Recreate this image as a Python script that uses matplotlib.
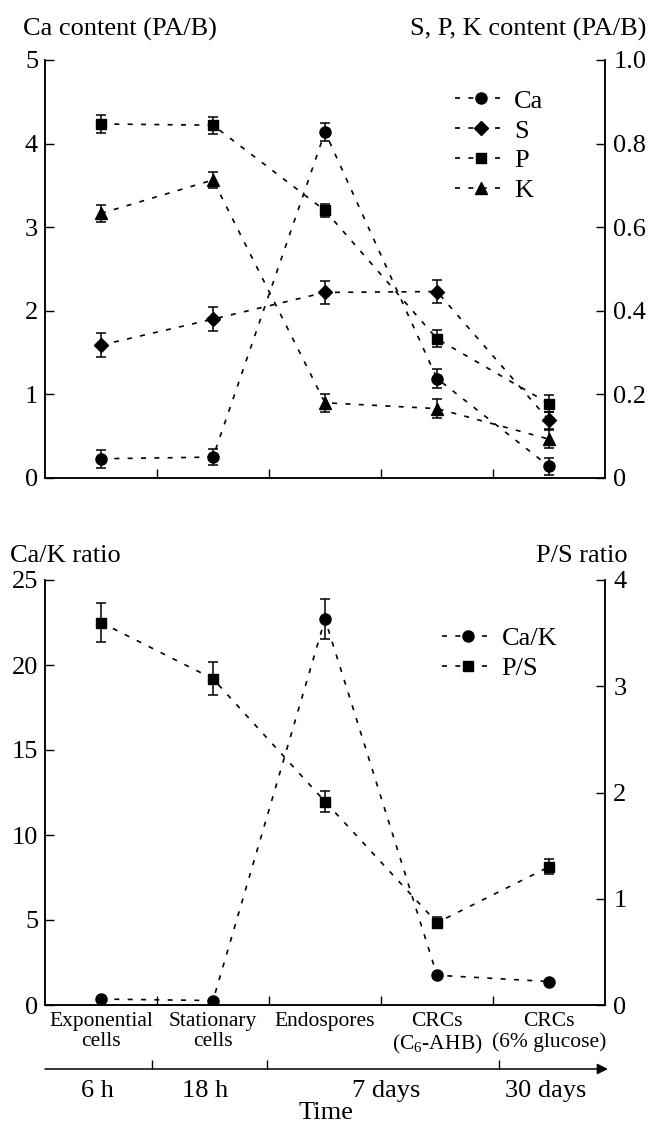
import numpy as np
import matplotlib.pyplot as plt
from matplotlib.ticker import FixedLocator, FixedFormatter

plt.rcParams['font.family'] = ['Liberation Serif', 'DejaVu Serif']
plt.rcParams['mathtext.fontset'] = 'custom'
plt.rcParams['mathtext.rm'] = 'Liberation Serif'

# ---- data -------------------------------------------------------------
categories = ['Exponential\ncells', 'Stationary\ncells', 'Endospores',
              'CRCs\n(C$_6$-AHB)', 'CRCs\n(6% glucose)']
x = np.arange(len(categories)) + 0.5

# top panel: Ca on the left axis, S, P, K on the right axis
ca = [0.23, 0.25, 4.14, 1.19, 0.14]
ca_err = [0.11, 0.10, 0.11, 0.11, 0.10]
s = [0.318, 0.380, 0.444, 0.446, 0.138]
s_err = [0.028, 0.028, 0.028, 0.028, 0.020]
p = [0.847, 0.844, 0.640, 0.333, 0.178]
p_err = [0.022, 0.020, 0.016, 0.020, 0.020]
k = [0.633, 0.713, 0.180, 0.166, 0.093]
k_err = [0.020, 0.020, 0.022, 0.022, 0.022]

# bottom panel: Ca/K on the left axis, P/S on the right axis
ca_k = [0.35, 0.26, 22.7, 1.75, 1.38]
ca_k_err = [0.0, 0.0, 1.16, 0.0, 0.0]
p_s = [3.60, 3.07, 1.915, 0.775, 1.30]
p_s_err = [0.18, 0.154, 0.10, 0.05, 0.07]

top_left_ticks = [0, 1, 2, 3, 4, 5]
top_right_ticks = [0, 0.2, 0.4, 0.6, 0.8, 1.0]
top_right_labels = ['0', '0.2', '0.4', '0.6', '0.8', '1.0']
bot_left_ticks = [0, 5, 10, 15, 20, 25]
bot_right_ticks = [0, 1, 2, 3, 4]

time_breaks = [0.96, 1.98, 4.06]
time_labels = ['6 h', '18 h', '7 days', '30 days']
time_label_pos = [0.47, 1.43, 3.05, 4.47]

# ---- style ------------------------------------------------------------
fs = 19
W, H = 658, 1125
dash = (0, (3, 5))
line_kw = dict(color='k', lw=1.2, ls=dash, markersize=8, zorder=3)
err_kw = dict(fmt='none', ecolor='k', elinewidth=1.1, capsize=3.6,
              capthick=1.1, zorder=2)


def fx(px):
    return px / W


def fy(py):
    return 1 - py / H


def style_axes(ax, side):
    ax.spines['top'].set_visible(False)
    ax.tick_params(axis='y', direction='in', length=6.5, width=1,
                   labelsize=fs, pad=5 if side == 'left' else 6)
    ax.tick_params(axis='x', direction='in', length=6.5, width=1)
    for sp in ax.spines.values():
        sp.set_linewidth(1.1)


fig = plt.figure(figsize=(W / 100, H / 100), dpi=100)

x0, x1 = fx(45), fx(605)

# ---- top panel --------------------------------------------------------
ax = fig.add_axes([x0, fy(478), x1 - x0, fy(60) - fy(478)])
ax2 = ax.twinx()
for a in (ax, ax2):
    a.set_xlim(0, 5)
ax.set_ylim(0, 5)
ax2.set_ylim(0, 1.0)

ax.errorbar(x, ca, yerr=ca_err, **err_kw)
h_ca, = ax.plot(x, ca, marker='o', label='Ca', **line_kw)
ax2.errorbar(x, s, yerr=s_err, **err_kw)
h_s, = ax2.plot(x, s, marker='D', label='S', **dict(line_kw, markersize=7.5))
ax2.errorbar(x, p, yerr=p_err, **err_kw)
h_p, = ax2.plot(x, p, marker='s', label='P', **dict(line_kw, markersize=7.5))
ax2.errorbar(x, k, yerr=k_err, **err_kw)
h_k, = ax2.plot(x, k, marker='^', label='K', **dict(line_kw, markersize=8.5))

style_axes(ax, 'left')
style_axes(ax2, 'right')
ax.set_yticks(top_left_ticks)
ax2.yaxis.set_major_locator(FixedLocator(top_right_ticks))
ax2.yaxis.set_major_formatter(FixedFormatter(top_right_labels))
ax.set_xticks([1, 2, 3, 4])
ax.set_xticklabels([])
ax2.set_xticks([1, 2, 3, 4])
ax2.set_xticklabels([])

ax2.legend(handles=[h_ca, h_s, h_p, h_k], loc='upper left',
           bbox_to_anchor=(0.732, 0.93), frameon=False, fontsize=fs,
           handlelength=2.0, handletextpad=0.25, labelspacing=0.24,
           borderpad=0, borderaxespad=0, numpoints=1)

fig.text(fx(23), fy(29), 'Ca content (PA/B)', fontsize=fs,
         ha='left', va='center')
fig.text(fx(646), fy(29), 'S, P, K content (PA/B)', fontsize=fs,
         ha='right', va='center')

# ---- bottom panel -----------------------------------------------------
bx = fig.add_axes([x0, fy(1005), x1 - x0, fy(580) - fy(1005)])
bx2 = bx.twinx()
for a in (bx, bx2):
    a.set_xlim(0, 5)
bx.set_ylim(0, 25)
bx2.set_ylim(0, 4)

bx.errorbar(x, ca_k, yerr=ca_k_err, **err_kw)
h_ck, = bx.plot(x, ca_k, marker='o', label='Ca/K', **line_kw)
bx2.errorbar(x, p_s, yerr=p_s_err, **err_kw)
h_ps, = bx2.plot(x, p_s, marker='s', label='P/S',
                 **dict(line_kw, markersize=7.5))

style_axes(bx, 'left')
style_axes(bx2, 'right')
bx.set_yticks(bot_left_ticks)
bx2.set_yticks(bot_right_ticks)
for a in (bx, bx2):
    a.set_xticks([1, 2, 3, 4])
    a.set_xticklabels([])
bx.set_xticks(x, minor=True)
bx.set_xticklabels(categories, minor=True, fontsize=15.5, linespacing=1.1)
bx.tick_params(axis='x', which='minor', length=0, pad=5)

bx2.legend(handles=[h_ck, h_ps], loc='upper left',
           bbox_to_anchor=(0.709, 0.89), frameon=False, fontsize=fs,
           handlelength=2.0, handletextpad=0.25, labelspacing=0.24,
           borderpad=0, borderaxespad=0, numpoints=1)

fig.text(fx(10), fy(556), 'Ca/K ratio', fontsize=fs, ha='left', va='center')
fig.text(fx(628), fy(556), 'P/S ratio', fontsize=fs, ha='right', va='center')

# ---- time arrow -------------------------------------------------------
tx = fig.add_axes([x0, fy(1069), x1 - x0 + fx(3), 0.001])
tx.set_xlim(0, 5.03)
tx.set_ylim(0, 1)
for sp in tx.spines.values():
    sp.set_visible(False)
tx.set_yticks([])
tx.set_xticks(time_breaks)
tx.set_xticklabels([])
tx.tick_params(axis='x', which='major', direction='in', length=6.5,
               width=1, bottom=True)
tx.set_xticks(time_label_pos, minor=True)
tx.set_xticklabels(time_labels, minor=True, fontsize=fs)
tx.tick_params(axis='x', which='minor', length=0, pad=8)
tx.set_xlabel('Time', fontsize=fs, labelpad=0)
tx.annotate('', xy=(1, 0), xytext=(0, 0), xycoords='axes fraction',
            textcoords='axes fraction',
            arrowprops=dict(arrowstyle='-|>', lw=1.1, color='k',
                            mutation_scale=16, shrinkA=0, shrinkB=0))

fig.savefig('out.png', dpi=100)
